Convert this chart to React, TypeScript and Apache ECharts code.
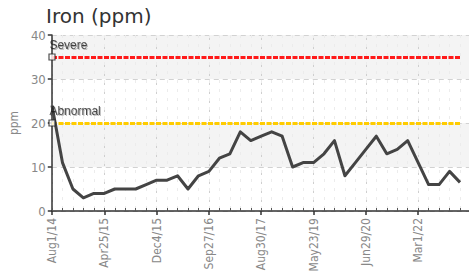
import React, { useEffect, useRef } from "react";
import * as echarts from "echarts";

const tickLabels = ["Aug1/14", "Apr25/15", "Dec4/15", "Sep27/16", "Aug30/17", "May23/19", "Jun29/20", "Mar1/22"];
const ironValues = [24, 11, 5, 3, 4, 4, 5, 5, 5, 6, 7, 7, 8, 5, 8, 9, 12, 13, 18, 16, 17, 18, 17, 10, 11, 11, 13, 16, 8, 11, 14, 17, 13, 14, 16, 11, 6, 6, 9, 6.5];
const limitNames = ["Severe", "Abnormal"];
const limitValues = [35, 20];
const limitColors = ["#ff1a1a", "#ffcc00"];

const categories: string[] = ironValues.map((_, i) => (i % 5 === 0 ? tickLabels[i / 5] ?? "" : ""));

const narrow = "'Liberation Sans Narrow', 'DejaVu Sans Condensed', Arial, sans-serif";

export default function App() {
  const ref = useRef<HTMLDivElement>(null);
  useEffect(() => {
    if (!ref.current) return;
    const chart = echarts.init(ref.current, null, { renderer: "svg" });
    const top = 35;
    const bottom = 68;
    chart.setOption({
      animation: false,
      backgroundColor: "#ffffff",
      title: {
        text: "Iron (ppm)",
        left: 41,
        top: 1,
        textStyle: { fontFamily: "'DejaVu Sans', sans-serif", fontSize: 20, fontWeight: "normal", color: "#333" },
      },
      grid: [
        { left: 39, right: 0, top, bottom },
        { left: 52, right: 9, top, bottom },
      ],
      xAxis: [
        {
          type: "value",
          gridIndex: 0,
          min: 0,
          max: 1,
          axisLine: { show: true, lineStyle: { color: "#333", width: 1.5 } },
          axisTick: { show: false },
          axisLabel: { show: false },
          splitLine: { show: false },
        },
        {
          type: "category",
          gridIndex: 1,
          data: categories,
          boundaryGap: false,
          position: "bottom",
          axisLine: { show: false },
          axisTick: { show: true, interval: 4, length: 4, lineStyle: { color: "#333", width: 1.5 } },
          axisLabel: {
            interval: 4,
            rotate: 90,
            margin: 7,
            color: "#888",
            fontSize: 12,
            fontFamily: narrow,
          },
          splitLine: { show: true, interval: 4, lineStyle: { color: "#cfcfcf", type: [5, 4], width: 1 } },
        },
        {
          type: "category",
          gridIndex: 1,
          data: categories,
          boundaryGap: false,
          position: "bottom",
          axisLine: { show: false },
          axisTick: { show: true, interval: 0, inside: true, length: 3, lineStyle: { color: "#555", width: 1 } },
          axisLabel: { show: false },
          splitLine: { show: true, interval: 0, lineStyle: { color: "#ececec", type: [3, 6], width: 1 } },
        },
      ],
      yAxis: [
        {
          type: "value",
          gridIndex: 0,
          min: 0,
          max: 40,
          interval: 10,
          name: "ppm",
          nameLocation: "middle",
          nameGap: 26,
          nameTextStyle: { color: "#888", fontSize: 12, fontFamily: narrow },
          axisLine: { show: true, lineStyle: { color: "#333", width: 1.5 } },
          axisTick: { show: true, length: 4, lineStyle: { color: "#333", width: 1.5 } },
          axisLabel: { color: "#888", fontSize: 13, fontFamily: narrow, margin: 6 },
          splitLine: { show: true, lineStyle: { color: "#d2d2d2", type: [5, 4], width: 1 } },
          splitArea: { show: true, areaStyle: { color: ["#ffffff", "#f4f4f4"] } },
        },
        {
          type: "value",
          gridIndex: 1,
          min: 0,
          max: 40,
          interval: 10,
          show: false,
        },
      ],
      series: [
        {
          type: "line",
          xAxisIndex: 1,
          yAxisIndex: 1,
          data: ironValues,
          showSymbol: false,
          symbol: "none",
          lineStyle: { color: "#444", width: 3, join: "round" },
          z: 5,
          markLine: {
            silent: true,
            symbol: ["none", "none"],
            label: { show: false },
            data: limitValues.map((v, i) => ({
              yAxis: v,
              lineStyle: { color: limitColors[i], width: 3, type: [5, 1.5] },
            })),
          },
        },
        {
          type: "scatter",
          xAxisIndex: 1,
          yAxisIndex: 1,
          symbol: "rect",
          symbolSize: 6,
          z: 10,
          itemStyle: { color: "#ffffff", borderColor: "#222", borderWidth: 1.2 },
          data: limitValues.map((v, i) => ({
            value: [0, v],
            label: {
              show: true,
              formatter: limitNames[i],
              position: [1, -2],
              align: "left",
              verticalAlign: "bottom",
              color: "#1a1a1a",
              fontSize: 12,
              fontFamily: "'Liberation Sans', Arial, sans-serif",
              textShadowColor: "rgba(0,0,0,0.35)",
              textShadowBlur: 1,
              textShadowOffsetX: 1,
              textShadowOffsetY: 1,
            },
          })),
        },
      ],
    });
    return () => chart.dispose();
  }, []);
  return <div ref={ref} style={{ width: 469, height: 279, position: "absolute", left: 0, top: 0 }} />;
}
